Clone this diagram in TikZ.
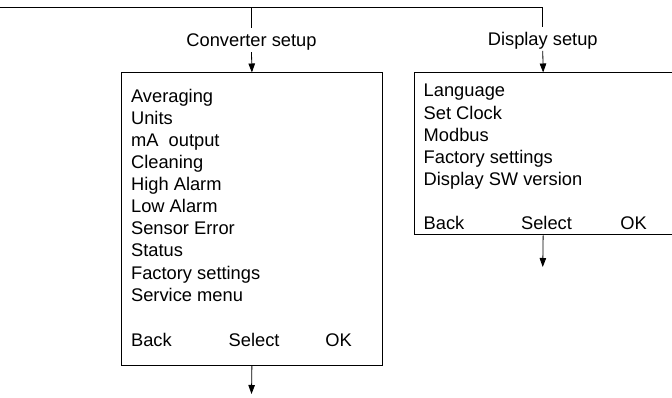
\documentclass[tikz,border=0pt]{standalone}
\usepackage{fontspec}
\setmainfont{Liberation Sans}
\usetikzlibrary{arrows.meta}
\begin{document}
\begin{tikzpicture}[x=1pt,y=-1pt,line width=0.8pt,
  menubox/.style={draw,inner sep=0pt,anchor=north west},
  item/.style={inner sep=0pt,anchor=base west,font=\fontsize{18.3}{22}\selectfont},
  lbl/.style={inner sep=0pt,anchor=base,text height=18pt,text depth=5pt,font=\fontsize{18.3}{22}\selectfont},
  arr/.style={-{Triangle[length=9pt,width=6.5pt]}}]
\useasboundingbox (0,0) rectangle (672,398);
% boxes
\node[menubox,minimum width=261pt,minimum height=292.5pt] (cbox) at (121,72.5) {};
\node[menubox,minimum width=257.5pt,minimum height=162pt] (dbox) at (414,72.5) {};
% labels
\node[lbl] (clabel) at (251.5,46.7) {Converter setup};
\node[lbl] (dlabel) at (542.75,45.5) {Display setup};
% top line
\coordinate (tl) at (0,7.5);
\coordinate (cj) at (251.5,7.5);
\coordinate (dj) at (542.75,7.5);
\draw (tl) -- (dj) -- (dlabel.north);
\draw (cj) -- (clabel.north);
\draw[arr] (clabel.south) -- (cbox.north);
\draw[arr] (dlabel.south) -- (dbox.north);
% bottom arrows
\coordinate (cend) at (251.5,394);
\coordinate (dend) at (542.75,267);
\draw[arr] (cbox.south) -- (cend);
\draw[arr] (dbox.south) -- (dend);
% converter items
\foreach \t [count=\i] in {Averaging,Units,mA\ \ output,Cleaning,High Alarm,Low Alarm,Sensor Error,Status,Factory settings,Service menu}
  \node[item] (c\i) at (130.7,{102.7+22.04*(\i-1)}) {\t};
\node[item] (cback) at (130.7,346) {Back};
\node[item] (csel) at (228.3,346) {Select};
\node[item] (cok) at (325,346) {OK};
% display items
\foreach \t [count=\i] in {Language,Set Clock,Modbus,Factory settings,Display SW version}
  \node[item] (d\i) at (423.3,{97+22.05*(\i-1)}) {\t};
\node[item] (dback) at (423.3,229.5) {Back};
\node[item] (dsel) at (520.7,229.5) {Select};
\node[item] (dok) at (620,229.5) {OK};
\end{tikzpicture}
\end{document}
